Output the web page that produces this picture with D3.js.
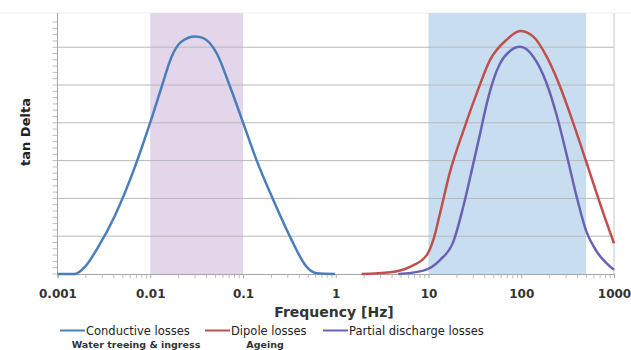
<!DOCTYPE html>
<html>
<head>
<meta charset="utf-8">
<script src="https://cdn.jsdelivr.net/npm/d3@7"></script>
<style>
  body { margin: 0; background: #fff; }
  svg { display: block; font-family: "DejaVu Sans", sans-serif; }
</style>
</head>
<body>
<div id="chart"></div>
<script>
// Frequency ticks (Hz) and their labels
const tickFreqs = [0.001, 0.01, 0.1, 1, 10, 100, 1000];
const tickLabels = ['0.001', '0.01', '0.1', '1', '10', '100', '1000'];

// Shaded frequency bands [from, to]
const bandConductive = [0.01, 0.1];
const bandDipole = [10, 500];

// Conductive losses (water treeing & ingress)
const condFreq = [0.001, 0.00154, 0.00198, 0.00275, 0.00417, 0.00685, 0.00994, 0.0133, 0.017, 0.0218, 0.0304, 0.0373, 0.052, 0.0724, 0.1007, 0.1406, 0.212, 0.321, 0.486, 0.623, 0.98];
const condVal  = [0, 0, 0.19, 0.72, 1.55, 2.84, 3.99, 4.96, 5.75, 6.15, 6.28, 6.24, 5.84, 4.96, 3.99, 3.0, 1.96, 0.99, 0.19, 0.02, 0];

// Dipole losses (ageing)
const dipFreq = [1.9, 3.85, 6.32, 9.57, 11.27, 13.3, 17.06, 23.7, 33.1, 46, 69.7, 97, 135, 188, 262, 364, 508, 706, 1000];
const dipVal  = [0, 0.045, 0.19, 0.5, 0.9, 1.6, 2.7, 3.78, 4.78, 5.66, 6.2, 6.43, 6.28, 5.75, 4.96, 3.99, 2.93, 1.87, 0.81];

// Partial discharge losses
const pdFreq = [4.72, 8.79, 13.3, 18.5, 23.7, 30.4, 35.9, 42.4, 50, 59, 75.7, 97, 135, 188, 241, 309, 396, 508, 650, 1000];
const pdVal  = [0, 0.09, 0.37, 0.85, 1.78, 2.92, 3.7, 4.5, 5.13, 5.57, 5.9, 6.01, 5.75, 5.04, 4.2, 3.15, 2.04, 1.1, 0.6, 0.11];

const legendNames = ['Conductive losses', 'Dipole losses', 'Partial discharge losses'];
const legendSubs = ['Water treeing & ingress', 'Ageing', ''];
const colors = ['#4a7ebb', '#c0504d', '#6a63b5'];

const width = 631, height = 350;
const margin = {top: 13, right: 17, bottom: 76, left: 57.5};

const svg = d3.select('#chart').append('svg')
    .attr('width', width)
    .attr('height', height);

const x = d3.scaleLog()
    .domain([0.001, 1000])
    .range([margin.left, width - margin.right]);

const y = d3.scaleLinear()
    .domain([0, 6.905])
    .range([height - margin.bottom, margin.top]);

const x0 = x.range()[0], x1 = x.range()[1];
const yb = y(0), yt = y.range()[1];

// faint top border
svg.append('line')
    .attr('x1', 0).attr('x2', width)
    .attr('y1', yt).attr('y2', yt)
    .attr('stroke', '#eeeeee');

// bands
svg.append('rect')
    .attr('x', x(bandConductive[0]))
    .attr('y', yt)
    .attr('width', x(bandConductive[1]) - x(bandConductive[0]))
    .attr('height', yb - yt)
    .attr('fill', '#e3d6ea');
svg.append('rect')
    .attr('x', x(bandDipole[0]))
    .attr('y', yt)
    .attr('width', x(bandDipole[1]) - x(bandDipole[0]))
    .attr('height', yb - yt)
    .attr('fill', '#c8def0');

// grid lines
svg.append('g')
    .selectAll('line')
    .data([1, 2, 3, 4, 5, 6])
    .join('line')
    .attr('x1', x0).attr('x2', x1)
    .attr('y1', d => y(d)).attr('y2', d => y(d))
    .attr('stroke', '#b8b8b8')
    .attr('stroke-width', 1);

// y minor ticks
const yMinor = d3.range(0, 41).map(i => i / 6);
svg.append('g')
    .selectAll('line')
    .data(yMinor)
    .join('line')
    .attr('x1', x0 - 5).attr('x2', x0)
    .attr('y1', d => y(d)).attr('y2', d => y(d))
    .attr('stroke', '#bdbdbd');

// axis lines
svg.append('line')
    .attr('x1', x0).attr('x2', x0).attr('y1', yt).attr('y2', yb)
    .attr('stroke', '#a6a6a6');
svg.append('line')
    .attr('x1', x1).attr('x2', x1).attr('y1', yt).attr('y2', yb)
    .attr('stroke', '#c8c8c8');

// x axis
const xMinor = [];
for (let e = -3; e < 3; e++) {
    for (let k = 2; k <= 9; k++) xMinor.push(k * Math.pow(10, e));
}
svg.append('g')
    .attr('transform', `translate(0,${yb})`)
    .call(d3.axisBottom(x).tickValues(xMinor).tickSize(4).tickFormat(''))
    .call(g => g.select('.domain').remove())
    .call(g => g.selectAll('line').attr('stroke', '#bdbdbd'));

svg.append('g')
    .attr('transform', `translate(0,${yb})`)
    .call(d3.axisBottom(x).tickValues(tickFreqs).tickSize(4).tickPadding(11)
        .tickFormat((d, i) => tickLabels[i]))
    .call(g => g.select('.domain').attr('stroke', '#a6a6a6'))
    .call(g => g.selectAll('line').attr('stroke', '#a6a6a6'))
    .call(g => g.selectAll('text')
        .attr('fill', '#333')
        .style('font-family', '"DejaVu Sans", sans-serif')
        .style('font-size', '12px')
        .style('font-weight', 'bold'));

// curves
const line = d3.line()
    .x(d => x(d[0]))
    .y(d => y(d[1]))
    .curve(d3.curveMonotoneX);

const series = [
    [condFreq, condVal],
    [dipFreq, dipVal],
    [pdFreq, pdVal]
];
series.forEach((s, i) => {
    svg.append('path')
        .datum(s[0].map((f, j) => [f, s[1][j]]))
        .attr('fill', 'none')
        .attr('stroke', colors[i])
        .attr('stroke-width', 2.5)
        .attr('d', line);
});

// axis titles
svg.append('text')
    .attr('x', 334)
    .attr('y', 317)
    .attr('text-anchor', 'middle')
    .attr('fill', '#333')
    .style('font-size', '14px')
    .style('font-weight', 'bold')
    .text('Frequency [Hz]');

svg.append('text')
    .attr('transform', 'translate(30,132) rotate(-90)')
    .attr('text-anchor', 'middle')
    .attr('fill', '#222')
    .style('font-size', '13px')
    .style('font-weight', 'bold')
    .text('tan Delta');

// legend
const legendX = [60, 205, 323];
const subX = [136, 265, 0];
const legend = svg.append('g');
legendNames.forEach((name, i) => {
    legend.append('line')
        .attr('x1', legendX[i]).attr('x2', legendX[i] + 25)
        .attr('y1', 330.5).attr('y2', 330.5)
        .attr('stroke', colors[i])
        .attr('stroke-width', 2);
    legend.append('text')
        .attr('x', legendX[i] + 26)
        .attr('y', 335)
        .attr('fill', '#222')
        .style('font-size', '11.5px')
        .text(name);
    if (legendSubs[i]) {
        legend.append('text')
            .attr('x', subX[i])
            .attr('y', 347.5)
            .attr('text-anchor', 'middle')
            .attr('fill', '#333')
            .style('font-size', '9.5px')
            .style('font-weight', 'bold')
            .text(legendSubs[i]);
    }
});
</script>
</body>
</html>
